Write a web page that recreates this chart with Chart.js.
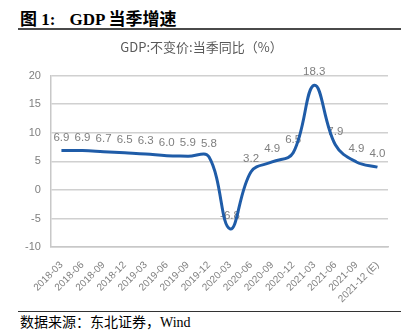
<!DOCTYPE html>
<html>
<head>
<meta charset="utf-8">
<script src="https://cdn.jsdelivr.net/npm/chart.js@4.4.1/dist/chart.umd.min.js"></script>
<style>
  html, body { margin: 0; padding: 0; background: #fff; }
  #page { position: relative; width: 413px; height: 330px; overflow: hidden; }
  #heading {
    position: absolute; left: 20px; top: 5px;
    font: bold 17px "Liberation Serif", "Noto Sans CJK SC", serif;
    color: #000; white-space: pre;
  }
  #heading .gap { display: inline-block; width: 14px; }
  #headRule { position: absolute; left: 18px; top: 28px; width: 383px; height: 2px; background: #4a4a4a; }
  #chartBox { position: absolute; left: 0; top: 36px; width: 413px; height: 273px; }
  #footRule { position: absolute; left: 18px; top: 311px; width: 383px; height: 1px; background: #333; }
  #source {
    position: absolute; left: 20px; top: 311px;
    font: 14px "Liberation Serif", "Noto Sans CJK SC", serif;
    color: #000; white-space: pre;
  }
</style>
</head>
<body>
<div id="page">
  <div id="heading">图 1:<span class="gap"></span>GDP 当季增速</div>
  <div id="headRule"></div>
  <div id="chartBox"><canvas id="gdpChart"></canvas></div>
  <div id="footRule"></div>
  <div id="source">数据来源：东北证券，Wind</div>
</div>
<script>
// quarterly GDP, constant prices, y/y %
const quarters = ['2018-03', '2018-06', '2018-09', '2018-12', '2019-03', '2019-06', '2019-09', '2019-12',
  '2020-03', '2020-06', '2020-09', '2020-12', '2021-03', '2021-06', '2021-09', '2021-12 (E)'];
const gdpYoY = [6.9, 6.9, 6.7, 6.5, 6.3, 6.0, 5.9, 5.8, -6.8, 3.2, 4.9, 6.5, 18.3, 7.9, 4.9, 4.0];
const yMin = -10;
const yMax = 20;
const yStep = 5;

const gray = '#7f7f7f';

// value labels above each point, drawn before the line so the line sits on top
const valueLabels = {
  id: 'valueLabels',
  beforeDatasetsDraw(chart) {
    const ctx = chart.ctx;
    const meta = chart.getDatasetMeta(0);
    ctx.save();
    ctx.font = '11.5px "Liberation Sans", sans-serif';
    ctx.fillStyle = gray;
    ctx.textAlign = 'center';
    ctx.textBaseline = 'middle';
    meta.data.forEach((pt, i) => {
      ctx.fillText(gdpYoY[i].toFixed(1), pt.x, pt.y - 13);
    });
    ctx.restore();
  }
};

const ctx = document.getElementById('gdpChart').getContext('2d');
const chart = new Chart(ctx, {
  type: 'line',
  data: {
    labels: quarters,
    datasets: [{
      label: 'GDP:不变价:当季同比（%）',
      data: gdpYoY,
      borderColor: '#1f5ca8',
      borderWidth: 3,
      tension: 0.4,
      pointRadius: 0,
      fill: false,
    }],
  },
  options: {
    responsive: true,
    maintainAspectRatio: false,
    animation: false,
    layout: { padding: { left: 15, right: 25, top: 0, bottom: 0 } },
    plugins: {
      legend: { display: false },
      tooltip: { enabled: false },
      title: {
        display: true,
        text: 'GDP:不变价:当季同比（%）',
        color: '#595959',
        font: { family: '"Noto Sans CJK SC", sans-serif', size: 13, weight: 'normal' },
        padding: { top: 3, bottom: 21 },
      },
    },
    scales: {
      x: {
        offset: true,
        grid: { display: false },
        border: { display: true, color: '#c8c8c8', width: 1.5 },
        ticks: {
          color: gray,
          font: { family: '"Liberation Sans", sans-serif', size: 10 },
          minRotation: 45,
          maxRotation: 45,
          autoSkip: false,
          padding: 4,
        },
      },
      y: {
        min: yMin,
        max: yMax,
        grid: { color: '#d0d0d0', lineWidth: 1.5, drawTicks: false },
        border: { display: true, color: '#c8c8c8', width: 1.5 },
        ticks: {
          stepSize: yStep,
          color: gray,
          font: { family: '"Liberation Sans", sans-serif', size: 11 },
          padding: 10,
        },
      },
    },
  },
  plugins: [valueLabels],
});
</script>
</body>
</html>
